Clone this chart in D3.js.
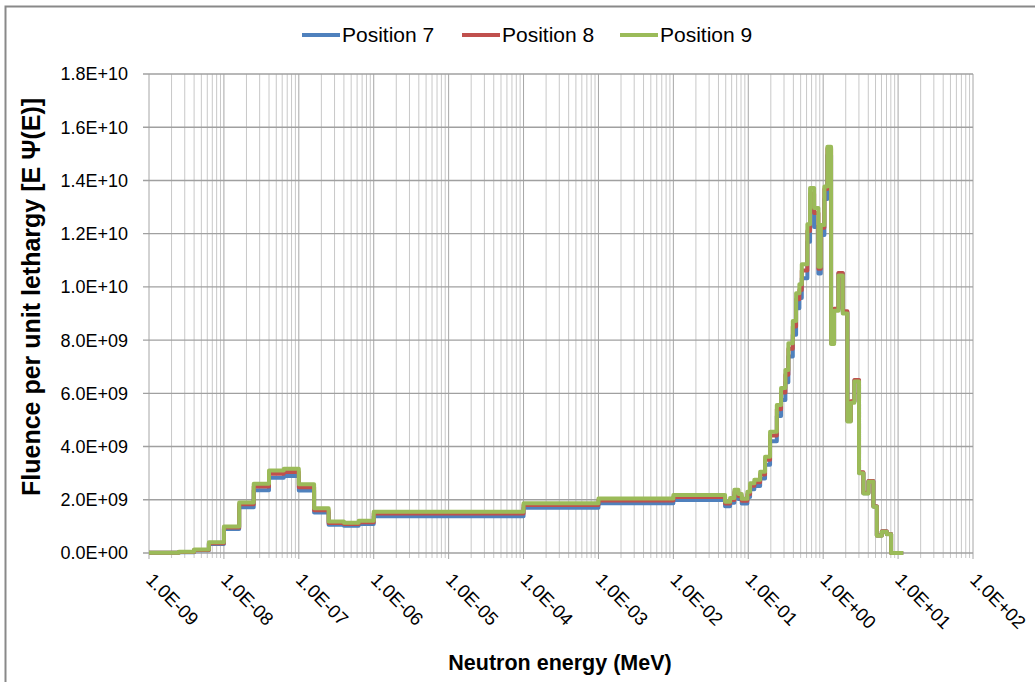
<!DOCTYPE html>
<html>
<head>
<meta charset="utf-8">
<script src="https://cdn.jsdelivr.net/npm/d3@7"></script>
<style>
  body { margin: 0; background: #fff; }
  svg { display: block; font-family: "Liberation Sans", Arial, sans-serif; }
</style>
</head>
<body>
<div id="viz"></div>
<script>
// energy bin edges (MeV)
var edges = [1e-9, 2.5e-9, 4e-9, 6.3e-9, 1e-8, 1.6e-8, 2.5e-8, 4e-8, 6.3e-8, 1e-7,
  1.6e-7, 2.5e-7, 4e-7, 6.3e-7, 1e-6, 1e-4, 1e-3, 1e-2, 0.049, 0.0572,
  0.0652, 0.0738, 0.0818, 0.0973, 0.1057, 0.1205, 0.144, 0.1675, 0.1954, 0.2405,
  0.274, 0.313, 0.343, 0.393, 0.435, 0.481, 0.518, 0.615, 0.668, 0.757,
  0.863, 0.929, 1.038, 1.138, 1.275, 1.398, 1.596, 1.826, 2.105, 2.337,
  2.61, 3.01, 3.44, 4.02, 4.68, 5.2, 6.06, 7.06, 8.07, 11.7];

// fluence per unit lethargy, units of 1e9
var pos7 = [0.01, 0.03, 0.10, 0.34, 0.90, 1.72, 2.36, 2.83, 2.89, 2.35,
  1.52, 1.06, 1.02, 1.09, 1.38, 1.70, 1.87, 1.99, 1.76, 1.89,
  2.17, 2.03, 1.86, 2.10, 2.40, 2.52, 2.80, 3.32, 4.20, 5.15,
  5.75, 6.42, 7.38, 8.20, 9.20, 9.58, 10.32, 11.70, 12.90, 12.25,
  10.50, 11.95, 13.30, 14.95, 7.88, 9.15, 10.50, 9.05, 4.97, 5.68,
  6.48, 3.02, 2.25, 2.70, 1.75, 0.66, 0.81, 0.71, 0.00];
var pos8 = [0.01, 0.04, 0.11, 0.37, 0.96, 1.83, 2.50, 2.98, 3.04, 2.47,
  1.61, 1.13, 1.09, 1.16, 1.48, 1.80, 1.97, 2.10, 1.86, 1.99,
  2.29, 2.14, 1.96, 2.21, 2.53, 2.66, 2.95, 3.50, 4.42, 5.40,
  6.03, 6.70, 7.68, 8.51, 9.54, 9.88, 10.62, 12.10, 13.50, 12.78,
  10.68, 12.22, 13.68, 15.20, 7.90, 9.18, 10.52, 9.08, 4.98, 5.70,
  6.50, 3.03, 2.26, 2.71, 1.76, 0.66, 0.82, 0.71, 0.00];
var pos9 = [0.01, 0.05, 0.13, 0.40, 1.00, 1.90, 2.60, 3.10, 3.17, 2.58,
  1.68, 1.18, 1.14, 1.21, 1.55, 1.87, 2.05, 2.18, 1.93, 2.07,
  2.38, 2.22, 2.04, 2.30, 2.62, 2.75, 3.05, 3.62, 4.56, 5.56,
  6.20, 6.88, 7.88, 8.72, 9.76, 10.10, 10.85, 12.35, 13.72, 12.96,
  10.76, 12.33, 13.77, 15.27, 7.85, 9.10, 10.43, 9.00, 4.94, 5.65,
  6.44, 3.00, 2.24, 2.68, 1.74, 0.65, 0.80, 0.70, 0.00];

var seriesNames = ['Position 7', 'Position 8', 'Position 9'];
var seriesColors = ['#4F81BD', '#C0504D', '#9BBB59'];

var xTickValues = [1e-9, 1e-8, 1e-7, 1e-6, 1e-5, 1e-4, 1e-3, 1e-2, 1e-1, 1e0, 1e1, 1e2];
var xTickLabels = ['1.0E-09', '1.0E-08', '1.0E-07', '1.0E-06', '1.0E-05', '1.0E-04',
  '1.0E-03', '1.0E-02', '1.0E-01', '1.0E+00', '1.0E+01', '1.0E+02'];
var yTickValues = [0, 2e9, 4e9, 6e9, 8e9, 1e10, 1.2e10, 1.4e10, 1.6e10, 1.8e10];
var yTickLabels = ['0.0E+00', '2.0E+09', '4.0E+09', '6.0E+09', '8.0E+09',
  '1.0E+10', '1.2E+10', '1.4E+10', '1.6E+10', '1.8E+10'];

var width = 1035, height = 682;
var plot = {left: 149, right: 973, top: 74, bottom: 553};

var x = d3.scaleLog()
  .domain([1e-9, 1e2])
  .range([plot.left, plot.right]);

var y = d3.scaleLinear()
  .domain([0, 1.8e10])
  .range([plot.bottom, plot.top]);

var svg = d3.select('#viz').append('svg')
  .attr('width', width)
  .attr('height', height);

svg.append('rect')
  .attr('width', width).attr('height', height)
  .attr('fill', '#fff');

// outer chart border (right/bottom fall outside the picture)
svg.append('rect')
  .attr('x', 5.5).attr('y', 6.5)
  .attr('width', width + 20).attr('height', height + 20)
  .attr('fill', 'none')
  .attr('stroke', '#898989')
  .attr('stroke-width', 2);

// minor vertical grid
var minor = [];
for (var e = -9; e < 2; e++) {
  for (var k = 2; k <= 9; k++) minor.push(k * Math.pow(10, e));
}
svg.append('g').selectAll('line')
  .data(minor).join('line')
  .attr('x1', d => x(d)).attr('x2', d => x(d))
  .attr('y1', plot.top).attr('y2', plot.bottom + 5)
  .attr('stroke', '#c8c8c8')
  .attr('stroke-width', 1);

// major vertical grid
svg.append('g').selectAll('line')
  .data(xTickValues).join('line')
  .attr('x1', d => x(d)).attr('x2', d => x(d))
  .attr('y1', plot.top).attr('y2', plot.bottom + 6)
  .attr('stroke', '#a6a6a6')
  .attr('stroke-width', 1);

// horizontal grid
svg.append('g').selectAll('line')
  .data(yTickValues).join('line')
  .attr('x1', plot.left - 6).attr('x2', plot.right)
  .attr('y1', d => y(d)).attr('y2', d => y(d))
  .attr('stroke', '#a0a0a0')
  .attr('stroke-width', 1.4);

// y tick labels
svg.append('g').selectAll('text')
  .data(yTickValues).join('text')
  .attr('x', 128)
  .attr('y', d => y(d))
  .attr('dy', '0.36em')
  .attr('text-anchor', 'end')
  .attr('font-size', 18)
  .attr('fill', '#000')
  .text((d, i) => yTickLabels[i]);

// x tick labels, rotated
svg.append('g').selectAll('text')
  .data(xTickValues).join('text')
  .attr('transform', d => 'translate(' + (x(d) - 4) + ',581) rotate(45)')
  .attr('text-anchor', 'start')
  .attr('font-size', 18.5)
  .attr('fill', '#000')
  .text((d, i) => xTickLabels[i]);

// step lines
var stepLine = d3.line()
  .x(d => x(d[0]))
  .y(d => y(d[1] * 1e9))
  .curve(d3.curveStepAfter);

function toPoints(vals) {
  var pts = vals.map((v, i) => [edges[i], v]);
  pts.push([edges[edges.length - 1], vals[vals.length - 1]]);
  return pts;
}

var allSeries = [pos7, pos8, pos9];
allSeries.forEach(function(vals, i) {
  svg.append('path')
    .datum(toPoints(vals))
    .attr('fill', 'none')
    .attr('stroke', seriesColors[i])
    .attr('stroke-width', 4)
    .attr('stroke-linejoin', 'round')
    .attr('d', stepLine);
});

// legend
var legendX = [302, 462, 620];
var legend = svg.append('g');
seriesNames.forEach(function(name, i) {
  legend.append('line')
    .attr('x1', legendX[i]).attr('x2', legendX[i] + 38)
    .attr('y1', 35).attr('y2', 35)
    .attr('stroke', seriesColors[i])
    .attr('stroke-width', 4);
  legend.append('text')
    .attr('x', legendX[i] + 40)
    .attr('y', 42)
    .attr('font-size', 21)
    .attr('fill', '#000')
    .text(name);
});

// axis titles
svg.append('text')
  .attr('x', 560).attr('y', 670)
  .attr('text-anchor', 'middle')
  .attr('font-size', 21.5)
  .attr('font-weight', 'bold')
  .text('Neutron energy (MeV)');

svg.append('text')
  .attr('transform', 'translate(40,297) rotate(-90)')
  .attr('text-anchor', 'middle')
  .attr('font-size', 25)
  .attr('font-weight', 'bold')
  .text('Fluence per unit lethargy [E \u03A8(E)]');
</script>
</body>
</html>
